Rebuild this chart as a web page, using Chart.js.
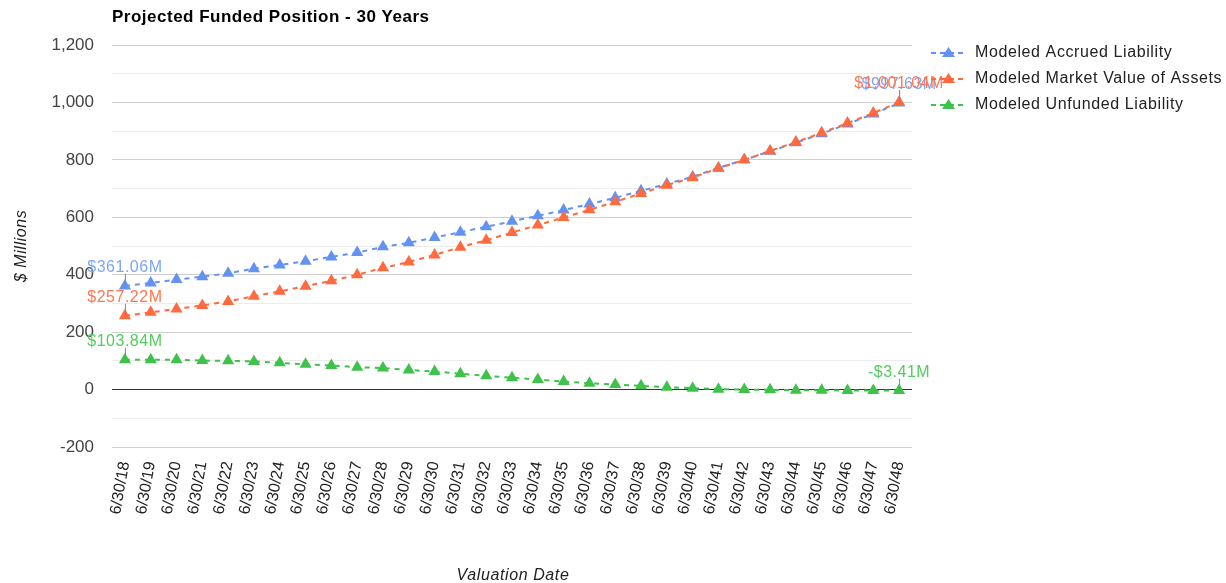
<!DOCTYPE html>
<html>
<head>
<meta charset="utf-8">
<script src="https://cdn.jsdelivr.net/npm/chart.js@4"></script>
<style>
  body { margin: 0; background: #fff; }
  canvas { display: block; }
</style>
</head>
<body>
<canvas id="posicao-financiada" width="1226" height="583"></canvas>
<script>
// Dados (US$ milhões)
const datas = ['6/30/18', '6/30/19', '6/30/20', '6/30/21', '6/30/22', '6/30/23', '6/30/24', '6/30/25',
    '6/30/26', '6/30/27', '6/30/28', '6/30/29', '6/30/30', '6/30/31', '6/30/32', '6/30/33', '6/30/34',
    '6/30/35', '6/30/36', '6/30/37', '6/30/38', '6/30/39', '6/30/40', '6/30/41', '6/30/42', '6/30/43',
    '6/30/44', '6/30/45', '6/30/46', '6/30/47', '6/30/48'];

const passivo = [361.06, 371, 383, 393, 405, 421, 434, 447, 462, 477, 497, 511, 530, 548, 567, 586,
    605, 625, 646, 668, 692, 716, 741, 772, 800, 830, 860, 891, 925, 960, 997.63];

const ativos = [257.22, 269, 281, 293, 307, 325, 342, 360, 379, 400, 424, 444, 469, 496, 520, 547,
    573, 599, 626, 654, 683, 712, 738, 771, 800, 831, 862, 894, 928, 963, 1001.04];

const descoberto = [103.84, 104, 104, 101, 100, 98, 93, 88, 84, 78, 75, 68, 63, 55, 48, 41,
    35, 28, 22, 18, 13, 8, 5, 1.5, 0, -1, -2, -2.5, -3, -3.2, -3.41];

const nomes = ['Modeled Accrued Liability', 'Modeled Market Value of Assets', 'Modeled Unfunded Liability'];
const cores = ['#6392f2', '#ff6a3f', '#3fc24b'];
const coresTexto = ['#7ea6f6', '#ff7650', '#52cc5c'];

const fonte = '"Liberation Sans", Arial, sans-serif';

function formatar(v) {
    return (v < 0 ? '-' : '') + '$' + Math.abs(v).toLocaleString('en-US', {
        minimumFractionDigits: 2, maximumFractionDigits: 2
    }) + 'M';
}

// rótulos do primeiro/último ponto, título, legenda e títulos dos eixos
const extras = {
    id: 'extras',
    afterDatasetsDraw(chart) {
        const ctx = chart.ctx;
        const x = chart.scales.x;
        const y = chart.scales.y;
        ctx.save();

        chart.data.datasets.forEach((ds, i) => {
            [0, ds.data.length - 1].forEach(idx => {
                const px = x.getPixelForValue(idx);
                const py = y.getPixelForValue(ds.data[idx]);
                ctx.strokeStyle = '#888';
                ctx.lineWidth = 1;
                ctx.beginPath();
                ctx.moveTo(px + 0.5, py);
                ctx.lineTo(px + 0.5, py - 12);
                ctx.stroke();
                ctx.fillStyle = coresTexto[i];
                ctx.font = '16px ' + fonte;
                ctx.letterSpacing = '0.5px';
                ctx.textAlign = 'center';
                ctx.textBaseline = 'alphabetic';
                ctx.fillText(formatar(ds.data[idx]), px, py - 14);
            });
        });

        // título
        ctx.fillStyle = '#000';
        ctx.font = 'bold 17px ' + fonte;
        ctx.letterSpacing = '0.5px';
        ctx.textAlign = 'left';
        ctx.textBaseline = 'middle';
        ctx.fillText('Projected Funded Position - 30 Years', chart.chartArea.left, 17);

        // legenda
        nomes.forEach((nome, i) => {
            const ly = 53 + i * 26;
            ctx.strokeStyle = cores[i];
            ctx.lineWidth = 2;
            ctx.setLineDash([5, 4]);
            ctx.beginPath();
            ctx.moveTo(931, ly);
            ctx.lineTo(966, ly);
            ctx.stroke();
            ctx.setLineDash([]);
            ctx.fillStyle = cores[i];
            ctx.beginPath();
            ctx.moveTo(948.5, ly - 6);
            ctx.lineTo(955, ly + 4);
            ctx.lineTo(942, ly + 4);
            ctx.closePath();
            ctx.fill();
            ctx.fillStyle = '#222';
            ctx.font = '16px ' + fonte;
            ctx.letterSpacing = '0.6px';
            ctx.textAlign = 'left';
            ctx.textBaseline = 'middle';
            ctx.fillText(nome, 975, ly);
        });

        // títulos dos eixos
        ctx.fillStyle = '#222';
        ctx.font = 'italic 16px ' + fonte;
        ctx.letterSpacing = '0.6px';
        ctx.textAlign = 'center';
        ctx.fillText('Valuation Date', 513, 576);
        ctx.translate(22, 246);
        ctx.rotate(-Math.PI / 2);
        ctx.fillText('$ Millions', 0, 0);

        ctx.restore();
    }
};

const series = [passivo, ativos, descoberto];
const ordem = [3, 2, 1]; // ativos por cima do passivo

const data = {
    labels: datas,
    datasets: series.map((valores, i) => ({
        label: nomes[i],
        data: valores,
        order: ordem[i],
        borderColor: cores[i],
        backgroundColor: cores[i],
        borderWidth: 2,
        borderDash: [5, 5],
        fill: false,
        tension: 0,
        pointStyle: 'triangle',
        pointRadius: 7,
        pointBackgroundColor: cores[i],
        pointBorderColor: cores[i],
        pointBorderWidth: 0
    }))
};

const config = {
    type: 'line',
    data: data,
    options: {
        responsive: false,
        animation: false,
        layout: {
            padding: { top: 45, right: 314, bottom: 0, left: 0 }
        },
        plugins: {
            legend: { display: false },
            title: { display: false },
            tooltip: { enabled: false }
        },
        scales: {
            x: {
                offset: true,
                afterFit: (scale) => { scale.height = 136; },
                grid: { display: false, drawTicks: false },
                border: { display: false },
                ticks: {
                    minRotation: 80,
                    maxRotation: 80,
                    autoSkip: false,
                    padding: 13,
                    color: '#222',
                    font: { family: fonte, size: 16 }
                }
            },
            y: {
                min: -200,
                max: 1200,
                afterFit: (scale) => { scale.width = 112; },
                border: { display: false },
                grid: {
                    drawTicks: false,
                    color: (c) => {
                        const v = c.tick.value;
                        if (v === 0) return '#333';
                        return v % 200 === 0 ? '#cfcfcf' : '#ececec';
                    },
                    lineWidth: 1
                },
                ticks: {
                    stepSize: 100,
                    padding: 18,
                    color: '#444',
                    font: { family: fonte, size: 17 },
                    callback: (v) => v % 200 === 0 ? v.toLocaleString('en-US') : ''
                }
            }
        }
    },
    plugins: [extras]
};

new Chart(document.getElementById('posicao-financiada'), config);
</script>
</body>
</html>
